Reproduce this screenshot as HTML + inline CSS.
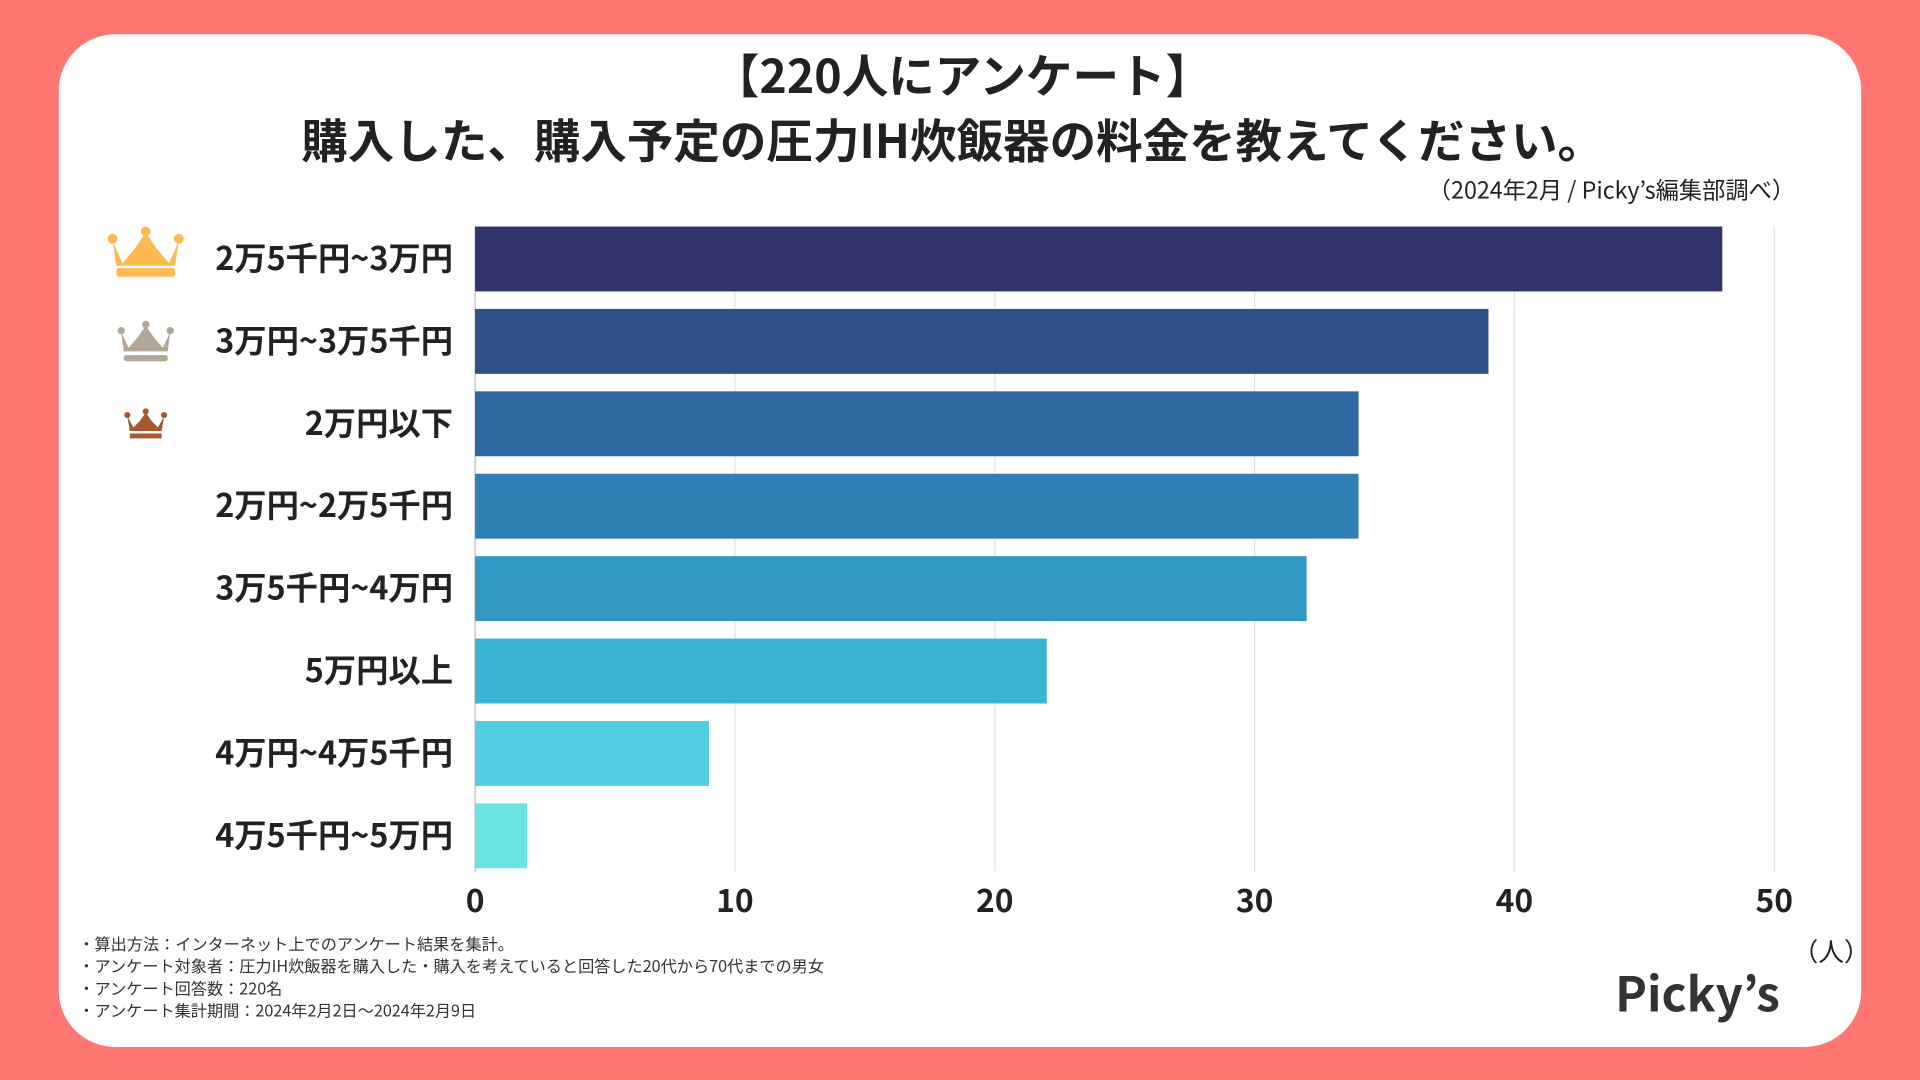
<!DOCTYPE html>
<html><head><meta charset="utf-8"><style>
html,body{margin:0;padding:0;width:1920px;height:1080px;overflow:hidden;background:#ff7672}
svg{display:block}
text{font-family:"Noto Sans CJK JP","Liberation Sans",sans-serif}
</style></head><body>
<svg id="chart" width="1920" height="1080" viewBox="0 0 1568 882">
<rect x="0" y="0" width="1568" height="882" fill="#ff7672"/>
<rect x="48" y="28" width="1472" height="827" rx="46" fill="#fff"/>
<text x="786" y="76" text-anchor="middle" font-size="38" font-weight="bold" fill="#222">【220人にアンケート】</text>
<text x="778" y="129" text-anchor="middle" font-size="38" font-weight="bold" fill="#222">購入した、購入予定の圧力IH炊飯器の料金を教えてください。</text>
<text x="1466" y="162" text-anchor="end" font-size="19" fill="#222">（2024年2月 / Picky’s編集部調べ）</text>
<g id="grid"></g><g id="bars"></g><g id="labels"></g><g id="ticks"></g>
<g fill="#fdb952">
<path d="M92,197 L100,215 L110,203 L119,190 L128,203 L138,215 L146,197 L143,217 L95,217 Z"/><circle cx="92" cy="195" r="4"/><circle cx="119" cy="189" r="4"/><circle cx="146" cy="195" r="4"/><rect x="95" y="219" width="48" height="7" rx="2"/></g>
<g fill="#b3a797">
<path d="M99,271 L105,284 L112,276 L119,266 L126,276 L133,284 L139,271 L137,287 L101,287 Z"/><circle cx="99" cy="270" r="3"/><circle cx="119" cy="265" r="3"/><circle cx="139" cy="270" r="3"/><rect x="101" y="290" width="36" height="5" rx="2"/></g>
<g fill="#a35a2c">
<path d="M104,340 L109,349 L114,344 L119,337 L124,344 L129,349 L134,340 L132,352 L106,352 Z"/><circle cx="104" cy="339" r="2.5"/><circle cx="119" cy="336" r="2.5"/><circle cx="134" cy="339" r="2.5"/><rect x="106" y="354" width="26" height="4"/></g>
<text x="1464" y="785" font-size="21" fill="#222">（人）</text>
<g font-size="13.2" fill="#333">
<text x="64" y="776">・算出方法：インターネット上でのアンケート結果を集計。</text>
<text x="64" y="794">・アンケート対象者：圧力IH炊飯器を購入した・購入を考えていると回答した20代から70代までの男女</text>
<text x="64" y="812">・アンケート回答数：220名</text>
<text x="64" y="830">・アンケート集計期間：2024年2月2日〜2024年2月9日</text></g>
<text x="1319" y="826" font-size="39" font-weight="bold" fill="#333">Picky’s</text>
</svg>
<script>
const categories=["2万5千円~3万円","3万円~3万5千円","2万円以下","2万円~2万5千円","3万5千円~4万円","5万円以上","4万円~4万5千円","4万5千円~5万円"];
const values=[48,39,34,34,32,22,9,2];
const tickValues=[0,10,20,30,40,50];
const colors=["#31346b","#314f87","#2f67a0","#2e80b3","#3298c5","#3db3d3","#50cde0","#6ae3e6"];
const NS="http://www.w3.org/2000/svg";
const x0=388,unit=21.22,top0=185,pitch=67.3,bh=53;
const xs=v=>x0+v*unit;
const ys=i=>top0+i*pitch;
function mk(t,a,p){const e=document.createElementNS(NS,t);for(const k in a)e.setAttribute(k,a[k]);p.appendChild(e);return e;}
const grid=document.getElementById('grid'),bars=document.getElementById('bars'),labels=document.getElementById('labels'),ticks=document.getElementById('ticks');
tickValues.forEach(t=>{
 const l=mk('line',{x1:xs(t),x2:xs(t),y1:185,y2:712,stroke:t===0?'#bbb':'#e3e3e3','stroke-width':1},grid);
 
 
 const tx=mk('text',{x:xs(t),y:745,'text-anchor':'middle','font-size':26,'font-weight':'bold',fill:'#222'},ticks);
 tx.textContent=t;
 
 
});
values.forEach((v,i)=>{
 const r=mk('rect',{x:x0,y:ys(i),width:xs(v)-x0,height:bh,fill:colors[i]},bars);
 
 
 const t=mk('text',{x:370,y:ys(i)+bh/2+9,'text-anchor':'end','font-size':26.4,'font-weight':'bold',fill:'#222'},labels);
 t.textContent=categories[i];
 
 
});
</script>
</body></html>
